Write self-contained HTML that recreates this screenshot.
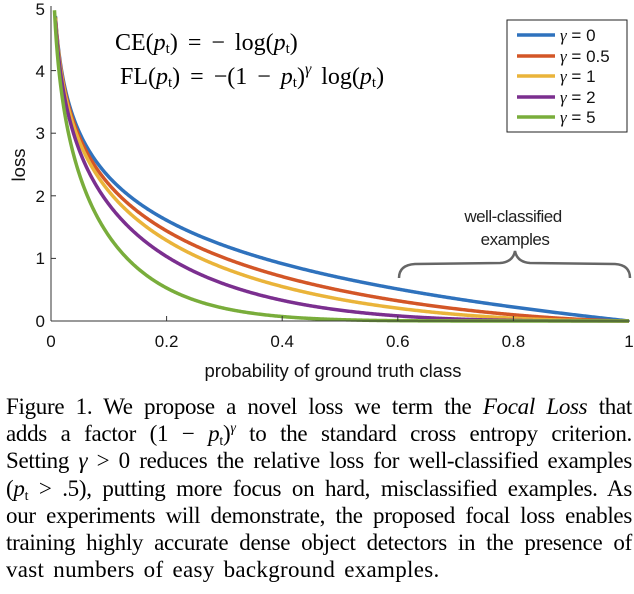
<!DOCTYPE html>
<html><head><meta charset="utf-8"><style>
body{margin:0;background:#fff;width:634px;height:594px;overflow:hidden}
svg{position:absolute;left:0;top:0}
.cap{position:absolute;left:6px;width:626px;top:393px;font-family:"Liberation Serif",serif;font-size:23px;line-height:27.2px;color:#000;letter-spacing:-0.3px;word-spacing:-2px}
.cap div{text-align:justify;text-align-last:justify;white-space:nowrap;height:27.2px}
.cap div.l{text-align-last:left;letter-spacing:0.3px;word-spacing:3px}
.sb{font-size:14px;position:relative;top:4px}
.sp{font-size:14px;position:relative;top:-9px}
</style></head><body>
<svg width="634" height="390" xmlns="http://www.w3.org/2000/svg" font-family="Liberation Sans, sans-serif">
<g id="curves" fill="none" stroke-width="3.5"></g>
<line x1="51" y1="321" x2="630" y2="321" stroke="#333" stroke-width="1"/>
<line x1="51" y1="321" x2="51" y2="6" stroke="#333" stroke-width="1"/>
<g stroke="#333">
<line x1="166.6" y1="321" x2="166.6" y2="316"/><line x1="282.2" y1="321" x2="282.2" y2="316"/><line x1="397.8" y1="321" x2="397.8" y2="316"/><line x1="513.4" y1="321" x2="513.4" y2="316"/>
<line x1="51" y1="258.4" x2="56" y2="258.4"/><line x1="51" y1="195.8" x2="56" y2="195.8"/><line x1="51" y1="133.2" x2="56" y2="133.2"/><line x1="51" y1="70.6" x2="56" y2="70.6"/>
</g>
<g font-size="17" fill="#111" text-anchor="middle">
<text x="51" y="347">0</text><text x="166.6" y="347">0.2</text><text x="282.2" y="347">0.4</text><text x="397.8" y="347">0.6</text><text x="513.4" y="347">0.8</text><text x="629" y="347">1</text>
</g>
<g font-size="17" fill="#111" text-anchor="end">
<text x="45" y="327">0</text><text x="45" y="264">1</text><text x="45" y="202">2</text><text x="45" y="139">3</text><text x="45" y="77">4</text><text x="45" y="15">5</text>
</g>
<text x="333" y="377" font-size="18.5" text-anchor="middle" fill="#111">probability of ground truth class</text>
<text transform="translate(25,165) rotate(-90)" font-size="18.5" text-anchor="middle" fill="#111">loss</text>
<g font-family="Liberation Serif, serif" font-size="24" fill="#000" word-spacing="4">
<text x="115" y="50">CE(<tspan font-style="italic">p</tspan><tspan font-size="15" dy="3">t</tspan><tspan dy="-3">) = − log(</tspan><tspan font-style="italic">p</tspan><tspan font-size="15" dy="3">t</tspan><tspan dy="-3">)</tspan></text>
<text x="120" y="84">FL(<tspan font-style="italic">p</tspan><tspan font-size="15" dy="3">t</tspan><tspan dy="-3">) = −(1 − </tspan><tspan font-style="italic">p</tspan><tspan font-size="15" dy="3">t</tspan><tspan dy="-3">)</tspan><tspan font-style="italic" font-size="16" dy="-10">γ</tspan><tspan dy="10"> log(</tspan><tspan font-style="italic">p</tspan><tspan font-size="15" dy="3">t</tspan><tspan dy="-3">)</tspan></text>
</g>
<rect x="507" y="20" width="120" height="112" fill="#fff" stroke="#222" stroke-width="1"/>
<g stroke-width="3.5">
<line x1="517" y1="35" x2="555" y2="35" stroke="#2f72bd"/>
<line x1="517" y1="56" x2="555" y2="56" stroke="#d35627"/>
<line x1="517" y1="76" x2="555" y2="76" stroke="#eab43a"/>
<line x1="517" y1="97" x2="555" y2="97" stroke="#7b2f8f"/>
<line x1="517" y1="117" x2="555" y2="117" stroke="#79ad3b"/>
</g>
<g font-size="17" fill="#111">
<text x="560" y="41"><tspan font-family="Liberation Serif, serif" font-style="italic">γ</tspan> = 0</text>
<text x="560" y="62"><tspan font-family="Liberation Serif, serif" font-style="italic">γ</tspan> = 0.5</text>
<text x="560" y="82"><tspan font-family="Liberation Serif, serif" font-style="italic">γ</tspan> = 1</text>
<text x="560" y="103"><tspan font-family="Liberation Serif, serif" font-style="italic">γ</tspan> = 2</text>
<text x="560" y="123"><tspan font-family="Liberation Serif, serif" font-style="italic">γ</tspan> = 5</text>
</g>
<path d="M399,278 Q399,265 415,264 L500,263 Q513,262 515,251 Q517,262 530,263 L615,264 Q630,265 630,278" fill="none" stroke="#666" stroke-width="2.5"/>
<g font-size="17" fill="#222" text-anchor="middle">
<text x="513" y="222" letter-spacing="-0.5">well-classified</text><text x="515" y="245" letter-spacing="-0.5">examples</text>
</g>
</svg>
<div class="cap">
<div>Figure 1. We propose a novel loss we term the <i>Focal Loss</i> that</div>
<div>adds a factor (1 − <i>p</i><span class="sb">t</span>)<span class="sp"><i>γ</i></span> to the standard cross entropy criterion.</div>
<div>Setting <i>γ</i> &gt; 0 reduces the relative loss for well-classified examples</div>
<div>(<i>p</i><span class="sb">t</span> &gt; .5), putting more focus on hard, misclassified examples. As</div>
<div>our experiments will demonstrate, the proposed focal loss enables</div>
<div>training highly accurate dense object detectors in the presence of</div>
<div class="l">vast numbers of easy background examples.</div>
</div>
<script>
var g=document.getElementById('curves');
var sets=[[0,'#2f72bd'],[0.5,'#d35627'],[1,'#eab43a'],[2,'#7b2f8f'],[5,'#79ad3b']];
sets.forEach(function(s){var d='';var started=false;
for(var i=0;i<=600;i++){var p=0.006+i*(0.994/600);var L=-Math.pow(1-p,s[0])*Math.log(p);if(L>5.05)continue;
var x=51+p*578,y=321-L*62.6;d+=(started?'L':'M')+x.toFixed(2)+','+y.toFixed(2);started=true;}
var e=document.createElementNS('http://www.w3.org/2000/svg','path');e.setAttribute('d',d);e.setAttribute('stroke',s[1]);g.appendChild(e);});
</script>
</body></html>
